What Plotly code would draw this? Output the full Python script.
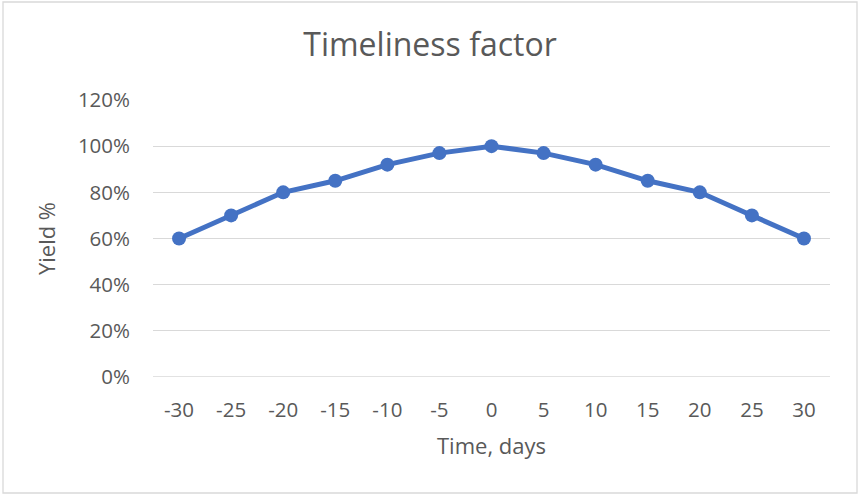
import plotly.graph_objects as go

# Timeliness factor: yield relative to the optimal day
days = [-30, -25, -20, -15, -10, -5, 0, 5, 10, 15, 20, 25, 30]
yield_pct = [60, 70, 80, 85, 92, 97, 100, 97, 92, 85, 80, 70, 60]
y_ticks = [0, 20, 40, 60, 80, 100, 120]
y_tick_labels = [f"{v}%" for v in y_ticks]

LINE_BLUE = "#4472C4"
TEXT_GREY = "#595959"
GRID_GREY = "#D9D9D9"
FONT = "Open Sans"

fig = go.Figure()
fig.add_trace(go.Scatter(
    x=days,
    y=yield_pct,
    mode="lines+markers",
    line=dict(color=LINE_BLUE, width=5),
    marker=dict(color=LINE_BLUE, size=14),
    showlegend=False,
))

fig.update_layout(
    width=860,
    height=495,
    margin=dict(l=153, r=30, t=100, b=118),
    paper_bgcolor="white",
    plot_bgcolor="white",
    font=dict(family=FONT, color=TEXT_GREY),
    title=dict(
        text="Timeliness factor",
        x=0.5, xref="container", xanchor="center",
        y=1 - 45 / 495, yref="container", yanchor="middle",
        font=dict(family=FONT, size=32, color=TEXT_GREY),
    ),
    xaxis=dict(
        range=[-32.5, 32.5],
        tickvals=days,
        ticktext=[str(d) for d in days],
        showgrid=False,
        zeroline=False,
        showline=False,
        ticks="",
        ticklabelstandoff=18,
        tickfont=dict(size=20.5, color=TEXT_GREY),
        title=dict(text="Time, days", font=dict(size=22, color=TEXT_GREY), standoff=17),
        fixedrange=True,
    ),
    yaxis=dict(
        range=[0, 120],
        tickvals=y_ticks,
        ticktext=y_tick_labels,
        showgrid=True,
        gridcolor=GRID_GREY,
        gridwidth=1.3,
        zeroline=False,
        showline=False,
        ticks="",
        ticklabelstandoff=22,
        tickfont=dict(size=20.5, color=TEXT_GREY),
        title=dict(text="Yield %", font=dict(size=22, color=TEXT_GREY), standoff=16),
        fixedrange=True,
    ),
    shapes=[
        # Chart area outline
        dict(
            type="rect", xref="paper", yref="paper",
            x0=(3 - 153) / 677, x1=(857 - 153) / 677,
            y0=(377 - 493) / 277, y1=(377 - 2) / 277,
            line=dict(color=GRID_GREY, width=1.3),
            fillcolor="rgba(0,0,0,0)",
            layer="below",
        ),
        # Base gridline at 0%
        dict(
            type="line", xref="paper", yref="y",
            x0=0, x1=1, y0=0, y1=0,
            line=dict(color=GRID_GREY, width=1.3),
            layer="below",
        ),
    ],
)

fig.write_html("out.html")
